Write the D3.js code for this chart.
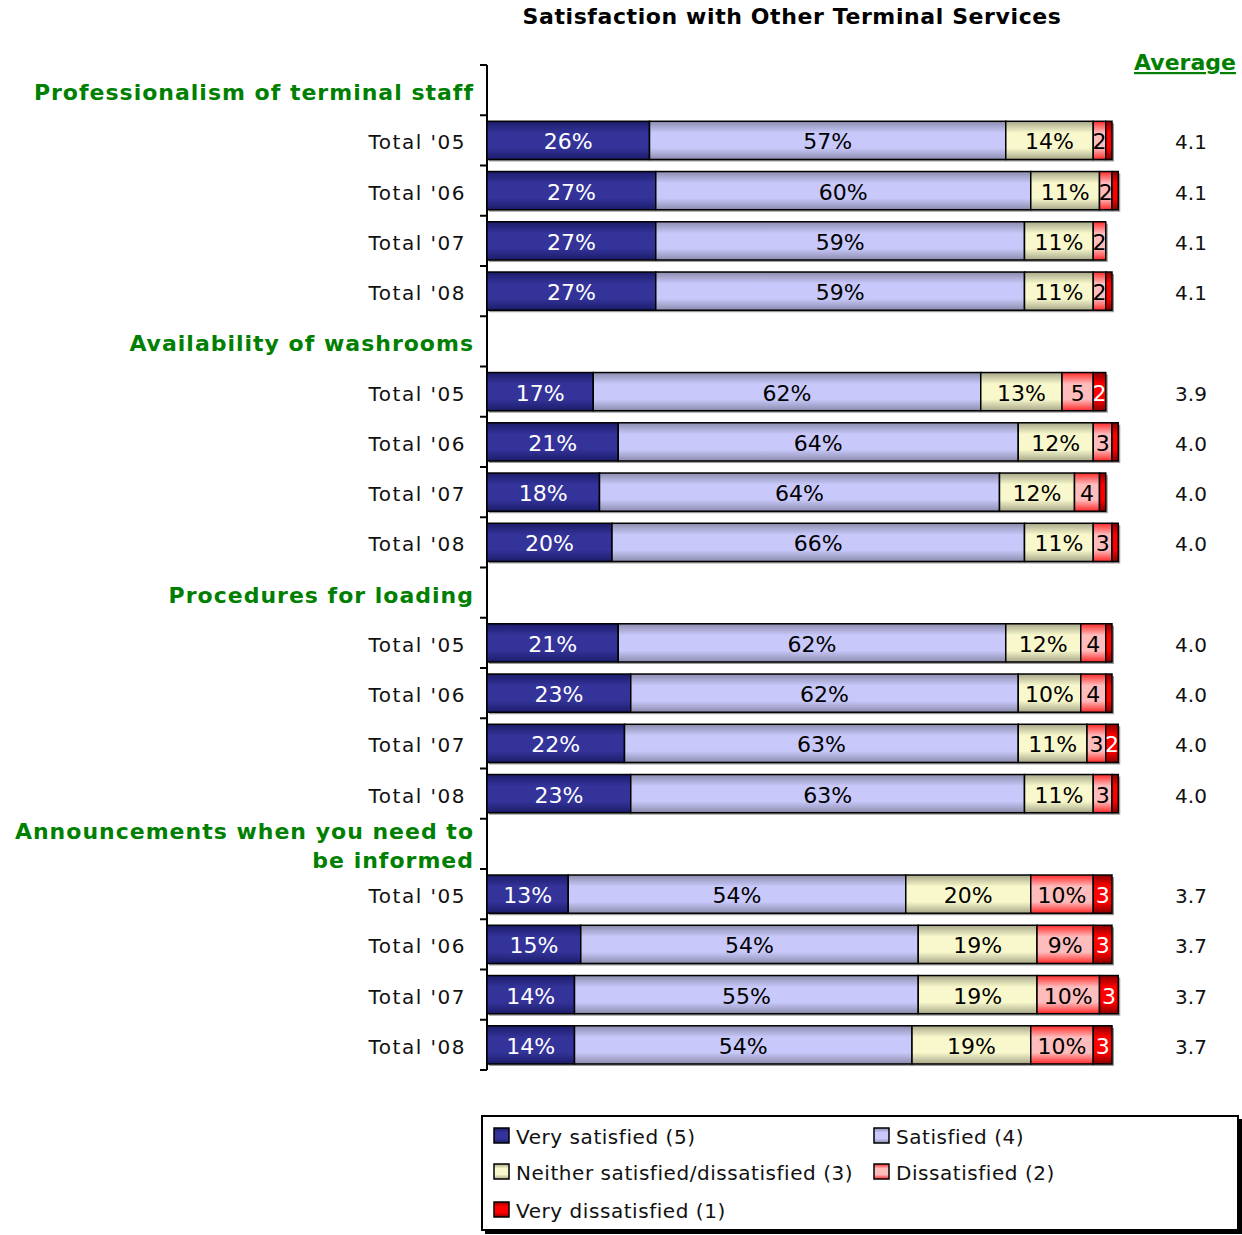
<!DOCTYPE html>
<meta charset="utf-8">
<style>
body { margin: 0; background: #fff; font-family: "DejaVu Sans", Verdana, sans-serif; }
</style>
<body>
<div id="chart"></div>
<script src="https://d3js.org/d3.v7.min.js"></script>
<script>

const groups = [
  ["Professionalism of terminal staff"],
  ["Availability of washrooms"],
  ["Procedures for loading"],
  ["Announcements when you need to", "be informed"]
];
const years = ["Total '05", "Total '06", "Total '07", "Total '08"];
const categories = ["Very satisfied (5)", "Satisfied (4)", "Neither satisfied/dissatisfied (3)", "Dissatisfied (2)", "Very dissatisfied (1)"];

const verySatisfied    = [26, 27, 27, 27, 17, 21, 18, 20, 21, 23, 22, 23, 13, 15, 14, 14];
const satisfied        = [57, 60, 59, 59, 62, 64, 64, 66, 62, 62, 63, 63, 54, 54, 55, 54];
const neither          = [14, 11, 11, 11, 13, 12, 12, 11, 12, 10, 11, 11, 20, 19, 19, 19];
const dissatisfied     = [ 2,  2,  2,  2,  5,  3,  4,  3,  4,  4,  3,  3, 10,  9, 10, 10];
const veryDissatisfied = [ 1,  1,  0,  1,  2,  1,  1,  1,  1,  1,  2,  1,  3,  3,  3,  3];
const averages = [4.1, 4.1, 4.1, 4.1, 3.9, 4.0, 4.0, 4.0, 4.0, 4.0, 4.0, 4.0, 3.7, 3.7, 3.7, 3.7];

const width = 1242, height = 1235;

// gradient stops: edge colour, centre colour
const fills = [
  {id: "g0", edge: "#1c1c6a", mid: "#333399", text: "#fff"},
  {id: "g1", edge: "#8c8cae", mid: "#c8c8fa", text: "#000"},
  {id: "g2", edge: "#a8a88a", mid: "#f8f8cc", text: "#000"},
  {id: "g3", edge: "#ff2a2a", mid: "#ffbcbc", text: "#000"},
  {id: "g4", edge: "#8a0000", mid: "#ff0000", text: "#fff"}
];

// rows: header + 4 years per group
const rows = [];
let bi = 0;
groups.forEach((g, gi) => {
  rows.push({id: "h" + gi, type: "header", lines: g});
  years.forEach((yr, yi) => {
    const vals = [verySatisfied[bi], satisfied[bi], neither[bi], dissatisfied[bi], veryDissatisfied[bi]];
    rows.push({id: "b" + bi, type: "bar", label: yr, vals: vals, avg: averages[bi]});
    bi++;
  });
});

const x = d3.scaleLinear().domain([0, 100]).range([487, 1112]);
const y = d3.scaleBand().domain(rows.map(d => d.id)).range([65, 1070]).paddingInner(0.24).paddingOuter(0.12);
const step = y.step();

const svg = d3.select("#chart").append("svg")
  .attr("width", width).attr("height", height);

const defs = svg.append("defs");
fills.forEach(f => {
  const lg = defs.append("linearGradient").attr("id", f.id)
    .attr("x1", 0).attr("y1", 0).attr("x2", 0).attr("y2", 1);
  lg.append("stop").attr("offset", "0%").attr("stop-color", f.edge);
  lg.append("stop").attr("offset", "30%").attr("stop-color", f.mid);
  lg.append("stop").attr("offset", "70%").attr("stop-color", f.mid);
  lg.append("stop").attr("offset", "100%").attr("stop-color", f.edge);
});

// title
svg.append("text")
  .attr("x", 792).attr("y", 24)
  .attr("text-anchor", "middle")
  .attr("font-weight", "bold").attr("font-size", "22px")
  .attr("letter-spacing", "0.6px")
  .text("Satisfaction with Other Terminal Services");

// Average heading
svg.append("text")
  .attr("x", 1185).attr("y", 70)
  .attr("text-anchor", "middle")
  .attr("font-weight", "bold").attr("font-size", "22px")
  .attr("fill", "#008000")
  .attr("text-decoration", "underline")
  .text("Average");

// axis line and ticks
const rangeTop = y.range()[0], rangeBot = y.range()[1];
svg.append("line")
  .attr("x1", 487).attr("x2", 487)
  .attr("y1", rangeTop).attr("y2", rangeBot)
  .attr("stroke", "#000").attr("stroke-width", 2);
d3.range(rows.length + 1).forEach(i => {
  const ty = rangeTop + i * step;
  svg.append("line")
    .attr("x1", 480).attr("x2", 487)
    .attr("y1", ty).attr("y2", ty)
    .attr("stroke", "#000").attr("stroke-width", 2);
});

// headers
rows.filter(d => d.type === "header").forEach(d => {
  const cy = y(d.id) + y.bandwidth() / 2;
  const n = d.lines.length;
  d.lines.forEach((ln, li) => {
    svg.append("text")
      .attr("x", 474)
      .attr("y", cy + 10 + (li - (n - 1) / 2) * 29)
      .attr("text-anchor", "end")
      .attr("font-weight", "bold").attr("font-size", "22px")
      .attr("fill", "#008000")
      .attr("letter-spacing", "1px")
      .text(ln);
  });
});

const barRows = rows.filter(d => d.type === "bar");

// row labels
svg.append("g").selectAll("text")
  .data(barRows)
  .join("text")
    .attr("x", 466)
    .attr("y", d => y(d.id) + y.bandwidth() / 2 + 9)
    .attr("text-anchor", "end")
    .attr("font-size", "20px")
    .attr("letter-spacing", "1.5px")
    .attr("fill", "#111")
    .text(d => d.label);

// averages
svg.append("g").selectAll("text")
  .data(barRows)
  .join("text")
    .attr("x", 1191)
    .attr("y", d => y(d.id) + y.bandwidth() / 2 + 9)
    .attr("text-anchor", "middle")
    .attr("font-size", "20px")
    .attr("fill", "#111")
    .text(d => d.avg.toFixed(1));

// segments
const segs = [];
barRows.forEach(d => {
  let acc = 0;
  d.vals.forEach((v, k) => {
    segs.push({row: d.id, k: k, v: v, x0: acc, x1: acc + v});
    acc += v;
  });
});

const barG = svg.append("g");
// shadow
barG.selectAll("rect.shadow")
  .data(barRows)
  .join("rect")
    .attr("class", "shadow")
    .attr("x", x(0) + 2)
    .attr("y", d => y(d.id) + 2)
    .attr("width", d => x(d3.sum(d.vals)) - x(0))
    .attr("height", y.bandwidth())
    .attr("fill", "#999");

barG.selectAll("rect.seg")
  .data(segs.filter(s => s.v > 0))
  .join("rect")
    .attr("class", "seg")
    .attr("x", s => x(s.x0))
    .attr("y", s => y(s.row))
    .attr("width", s => x(s.x1) - x(s.x0))
    .attr("height", y.bandwidth())
    .attr("fill", s => "url(#" + fills[s.k].id + ")")
    .attr("stroke", "#000")
    .attr("stroke-width", 1.5);

barG.selectAll("text")
  .data(segs.filter(s => s.v >= 2))
  .join("text")
    .attr("x", s => (x(s.x0) + x(s.x1)) / 2)
    .attr("y", s => y(s.row) + y.bandwidth() / 2 + 9)
    .attr("text-anchor", "middle")
    .attr("font-size", "22px")
    .attr("fill", s => fills[s.k].text)
    .text(s => s.v >= 9 ? s.v + "%" : s.v);

// legend
const lg = svg.append("g");
lg.append("rect")
  .attr("x", 485).attr("y", 1119).attr("width", 757).attr("height", 115)
  .attr("fill", "#000");
lg.append("rect")
  .attr("x", 482).attr("y", 1116).attr("width", 756).attr("height", 114)
  .attr("fill", "#fff").attr("stroke", "#000").attr("stroke-width", 2);

const legPos = [[494, 1136], [874, 1136], [494, 1172], [874, 1172], [494, 1210]];
categories.forEach((c, i) => {
  const [lx, ly] = legPos[i];
  lg.append("rect")
    .attr("x", lx).attr("y", ly - 8).attr("width", 15).attr("height", 15)
    .attr("fill", "url(#" + fills[i].id + ")")
    .attr("stroke", "#000").attr("stroke-width", 1.5);
  lg.append("text")
    .attr("x", lx + 22).attr("y", ly + 8)
    .attr("font-size", "20px")
    .attr("letter-spacing", "0.55px")
    .attr("fill", "#111")
    .text(c);
});

</script>
</body>
